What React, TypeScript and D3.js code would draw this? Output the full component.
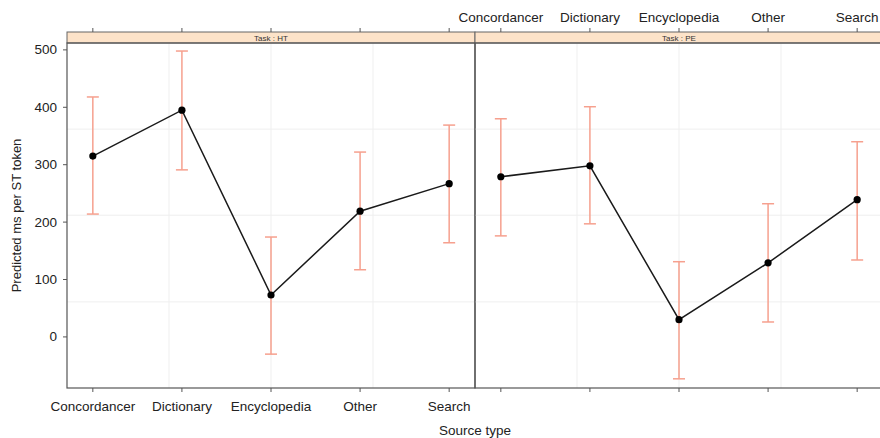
import React, { useEffect, useRef } from 'react'
import * as d3 from 'd3'

const sourceTypes = ['Concordancer', 'Dictionary', 'Encyclopedia', 'Other', 'Search']
const tasks = ['HT', 'PE']

const fitHT = [315, 395, 73, 219, 267]
const lowerHT = [214, 291, -30, 117, 164]
const upperHT = [418, 498, 174, 322, 369]

const fitPE = [279, 298, 30, 129, 239]
const lowerPE = [176, 197, -73, 26, 134]
const upperPE = [380, 401, 131, 232, 340]

const yTicks = [0, 100, 200, 300, 400, 500]
const yGrid = [61, 212, 362]

const W = 880
const H = 438
const FONT = 'Liberation Sans, Arial, sans-serif'

const App = () => {
  const ref = useRef<SVGSVGElement>(null)

  useEffect(() => {
    document.body.style.margin = '0'
    const svg = d3.select(ref.current)
    svg.selectAll('*').remove()

    const left = 67
    const panelW = 408
    const top = 43
    const bottom = 388
    const stripTop = 32

    const y = d3.scaleLinear().domain([-89, 512]).range([bottom, top])

    const panels = [
      { name: 'HT', fit: fitHT, lo: lowerHT, hi: upperHT },
      { name: 'PE', fit: fitPE, lo: lowerPE, hi: upperPE },
    ]

    panels.forEach((p, i) => {
      const x0 = left + i * panelW
      const x = d3.scalePoint<string>().domain(sourceTypes).range([x0, x0 + panelW]).padding(0.29)
      const g = svg.append('g')

      // grid
      const vg = d3.range(1, 4).map(k => x0 + (k * panelW) / 4)
      g.selectAll('.vg').data(vg).enter().append('line')
        .attr('x1', d => d).attr('x2', d => d).attr('y1', top).attr('y2', bottom)
        .attr('stroke', '#efefef').attr('stroke-width', 1)
      g.selectAll('.hg').data(yGrid).enter().append('line')
        .attr('x1', x0).attr('x2', x0 + panelW).attr('y1', d => y(d)).attr('y2', d => y(d))
        .attr('stroke', '#efefef').attr('stroke-width', 1)

      // error bars
      const eb = g.selectAll('.eb').data(sourceTypes).enter().append('g')
      eb.append('line')
        .attr('x1', d => x(d)!).attr('x2', d => x(d)!)
        .attr('y1', (d, j) => y(p.lo[j])).attr('y2', (d, j) => y(p.hi[j]))
        .attr('stroke', '#f6a08e').attr('stroke-width', 1.5)
      ;['lo', 'hi'].forEach(key => {
        eb.append('line')
          .attr('x1', d => x(d)! - 6).attr('x2', d => x(d)! + 6)
          .attr('y1', (d, j) => y((p as any)[key][j])).attr('y2', (d, j) => y((p as any)[key][j]))
          .attr('stroke', '#f6a08e').attr('stroke-width', 1.5)
      })

      // fit line + points
      const line = d3.line<number>().x((d, j) => x(sourceTypes[j])!).y(d => y(d))
      g.append('path').attr('d', line(p.fit)).attr('fill', 'none')
        .attr('stroke', '#1a1a1a').attr('stroke-width', 1.5)
      g.selectAll('.pt').data(p.fit).enter().append('circle')
        .attr('cx', (d, j) => x(sourceTypes[j])!).attr('cy', d => y(d)).attr('r', 3.6)
        .attr('fill', '#000')

      // strip
      g.append('rect').attr('x', x0).attr('y', stripTop).attr('width', panelW).attr('height', top - stripTop)
        .attr('fill', '#fde3c9').attr('stroke', '#666').attr('stroke-width', 1)
      g.append('text').attr('x', x0 + panelW / 2).attr('y', top - 2.5)
        .attr('text-anchor', 'middle').attr('font-family', FONT).attr('font-size', 8)
        .attr('fill', '#333').text(`Task : ${tasks[i]}`)

      // panel border
      g.append('rect').attr('x', x0).attr('y', top).attr('width', panelW).attr('height', bottom - top)
        .attr('fill', 'none').attr('stroke', '#555').attr('stroke-width', 1.2)

      // bottom + top ticks
      g.selectAll('.bt').data(sourceTypes).enter().append('line')
        .attr('x1', d => x(d)!).attr('x2', d => x(d)!).attr('y1', bottom).attr('y2', bottom + 4)
        .attr('stroke', '#555')
      g.selectAll('.tt').data(sourceTypes).enter().append('line')
        .attr('x1', d => x(d)!).attr('x2', d => x(d)!).attr('y1', stripTop).attr('y2', stripTop - 4)
        .attr('stroke', '#555')

      if (i === 0) {
        g.selectAll('.bl').data(sourceTypes).enter().append('text')
          .attr('x', d => x(d)!).attr('y', bottom + 23).attr('text-anchor', 'middle')
          .attr('font-family', FONT).attr('font-size', 13.5).attr('fill', '#222').text(d => d)
      } else {
        g.selectAll('.tl').data(sourceTypes).enter().append('text')
          .attr('x', d => x(d)!).attr('y', 22).attr('text-anchor', 'middle')
          .attr('font-family', FONT).attr('font-size', 13.5).attr('fill', '#222').text(d => d)
      }
    })

    // y axis
    const ya = svg.append('g')
    ya.selectAll('line').data(yTicks).enter().append('line')
      .attr('x1', left).attr('x2', left - 4).attr('y1', d => y(d)).attr('y2', d => y(d))
      .attr('stroke', '#555')
    ya.selectAll('text').data(yTicks).enter().append('text')
      .attr('x', left - 10).attr('y', d => y(d) + 4.5).attr('text-anchor', 'end')
      .attr('font-family', FONT).attr('font-size', 13.5).attr('fill', '#222').text(d => d)

    svg.append('text')
      .attr('transform', `translate(21,${(top + bottom) / 2}) rotate(-90)`)
      .attr('text-anchor', 'middle').attr('font-family', FONT).attr('font-size', 13)
      .attr('fill', '#222').text('Predicted ms per ST token')

    svg.append('text').attr('x', left + panelW).attr('y', 435).attr('text-anchor', 'middle')
      .attr('font-family', FONT).attr('font-size', 13.5).attr('fill', '#222').text('Source type')
  }, [])

  return <svg ref={ref} width={W} height={H} style={{ display: 'block', background: '#fff' }} />
}

export default App
